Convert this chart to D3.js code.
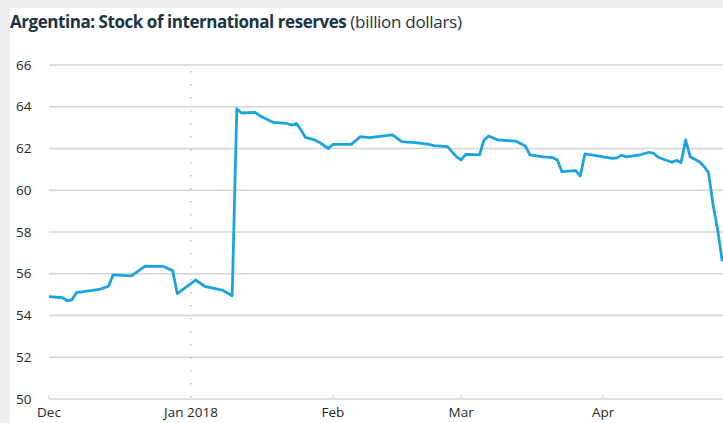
<!DOCTYPE html>
<html>
<head>
<meta charset="utf-8">
<script src="https://cdn.jsdelivr.net/npm/d3@7"></script>
<style>
  body { margin: 0; background: #efefef; }
  svg { display: block; font-family: "Open Sans", sans-serif; }
</style>
</head>
<body>
<svg id="chart" width="723" height="423"></svg>
<script>
'use strict';

// Readings
var dates = [
    "2017-12-01", "2017-12-04", "2017-12-05", "2017-12-06", "2017-12-07", "2017-12-12",
    "2017-12-14", "2017-12-15", "2017-12-19", "2017-12-22", "2017-12-26", "2017-12-28",
    "2017-12-29", "2018-01-02", "2018-01-04", "2018-01-08", "2018-01-10", "2018-01-11",
    "2018-01-12", "2018-01-15", "2018-01-16", "2018-01-19", "2018-01-22", "2018-01-23",
    "2018-01-24", "2018-01-25", "2018-01-26", "2018-01-28", "2018-01-29", "2018-01-31",
    "2018-02-01", "2018-02-05", "2018-02-07", "2018-02-09", "2018-02-14", "2018-02-16",
    "2018-02-19", "2018-02-22", "2018-02-23", "2018-02-26", "2018-02-28", "2018-03-01",
    "2018-03-02", "2018-03-05", "2018-03-06", "2018-03-07", "2018-03-09", "2018-03-13",
    "2018-03-15", "2018-03-16", "2018-03-19", "2018-03-21", "2018-03-22", "2018-03-23",
    "2018-03-26", "2018-03-27", "2018-03-28", "2018-04-03", "2018-04-04", "2018-04-05",
    "2018-04-06", "2018-04-09", "2018-04-11", "2018-04-12", "2018-04-13", "2018-04-16",
    "2018-04-17", "2018-04-18", "2018-04-19", "2018-04-20", "2018-04-22", "2018-04-23",
    "2018-04-24", "2018-04-25", "2018-04-26", "2018-04-27"
];
var reserves = [
    54.9, 54.85, 54.7, 54.75, 55.1, 55.25,
    55.4, 55.95, 55.9, 56.37, 56.35, 56.15,
    55.05, 55.7, 55.4, 55.2, 54.95, 63.9,
    63.7, 63.73, 63.57, 63.25, 63.2, 63.12,
    63.2, 62.9, 62.53, 62.41, 62.3, 62.0,
    62.2, 62.2, 62.57, 62.52, 62.65, 62.33,
    62.28, 62.2, 62.14, 62.09, 61.6, 61.45,
    61.72, 61.69, 62.41, 62.6, 62.41, 62.35,
    62.12, 61.69, 61.6, 61.56, 61.45, 60.89,
    60.94, 60.68, 61.74, 61.53, 61.55, 61.68,
    61.6, 61.69, 61.82, 61.77, 61.58, 61.34,
    61.44, 61.32, 62.41, 61.6, 61.37, 61.15,
    60.84, 59.3, 58.1, 56.6
];
var y_ticks = [50, 52, 54, 56, 58, 60, 62, 64, 66];
var x_ticks = ["2017-12-01", "2018-01-01", "2018-02-01", "2018-03-01", "2018-04-01"];
var x_tick_labels = ["Dec", "Jan 2018", "Feb", "Mar", "Apr"];

var colors = {
    line: "#1ba3dd",
    grid: "#d4d4d4",
    text: "#262626",
    title: "#1d3445",
};

var width = 723, height = 423;
var parse = d3.timeParse("%Y-%m-%d");
var data = dates.map((d, i) => ({ date: parse(d), value: reserves[i] }));

var svg = d3.select("#chart");

// white card, with the grey edge of the screenshot left and top
svg.append("rect")
   .attr("x", 10).attr("y", 8)
   .attr("width", width - 10).attr("height", height - 8)
   .attr("fill", "#fff");

var x = d3.scaleTime()
          .domain([parse("2017-12-01"), parse("2018-04-28")])
          .range([49, 49 + 148 * 4.58]);

var y = d3.scaleLinear()
          .domain([50, 66])
          .range([399, 65]);

// horizontal grid
svg.append("g")
   .selectAll("line")
   .data(y_ticks.filter(t => t > 50))
   .join("line")
   .attr("x1", 49).attr("x2", width)
   .attr("y1", d => y(d)).attr("y2", d => y(d))
   .attr("stroke", colors.grid)
   .attr("stroke-width", 1.6);

// x axis baseline
svg.append("line")
   .attr("x1", 49).attr("x2", width)
   .attr("y1", y(50)).attr("y2", y(50))
   .attr("stroke", colors.grid)
   .attr("stroke-width", 1.6);

// dotted year separator
svg.append("line")
   .attr("x1", x(parse("2018-01-01"))).attr("x2", x(parse("2018-01-01")))
   .attr("y1", 71).attr("y2", y(50))
   .attr("stroke", "#bdbdbd")
   .attr("stroke-width", 1.5)
   .attr("stroke-dasharray", "1.5,11.5");

// small ticks on the baseline
svg.append("g")
   .selectAll("line")
   .data(x_ticks.filter(t => t != "2018-01-01"))
   .join("line")
   .attr("x1", d => x(parse(d))).attr("x2", d => x(parse(d)))
   .attr("y1", y(50) - 4).attr("y2", y(50))
   .attr("stroke", colors.grid)
   .attr("stroke-width", 1.2);

// y labels
svg.append("g")
   .selectAll("text")
   .data(y_ticks)
   .join("text")
   .attr("x", 16)
   .attr("y", d => y(d))
   .attr("dy", "0.35em")
   .attr("fill", colors.text)
   .style("font-size", "13.5px")
   .text(d => d);

// x labels
svg.append("g")
   .selectAll("text")
   .data(x_ticks)
   .join("text")
   .attr("x", d => x(parse(d)))
   .attr("y", 417)
   .attr("text-anchor", "middle")
   .attr("fill", colors.text)
   .style("font-size", "13.5px")
   .text((d, i) => x_tick_labels[i]);

// the series
var line = d3.line()
             .x(d => x(d.date))
             .y(d => y(d.value));

svg.append("path")
   .datum(data)
   .attr("d", line)
   .attr("fill", "none")
   .attr("stroke", colors.line)
   .attr("stroke-width", 2.8)
   .attr("stroke-linejoin", "round");

// title
var title = svg.append("text")
               .attr("x", 10)
               .attr("y", 28)
               .attr("fill", colors.title)
               .style("font-size", "17px");
title.append("tspan")
     .style("font-weight", "bold")
     .attr("letter-spacing", "-0.45")
     .text("Argentina: Stock of international reserves ");
title.append("tspan")
     .attr("letter-spacing", "-0.3")
     .text("(billion dollars)");
</script>
</body>
</html>
